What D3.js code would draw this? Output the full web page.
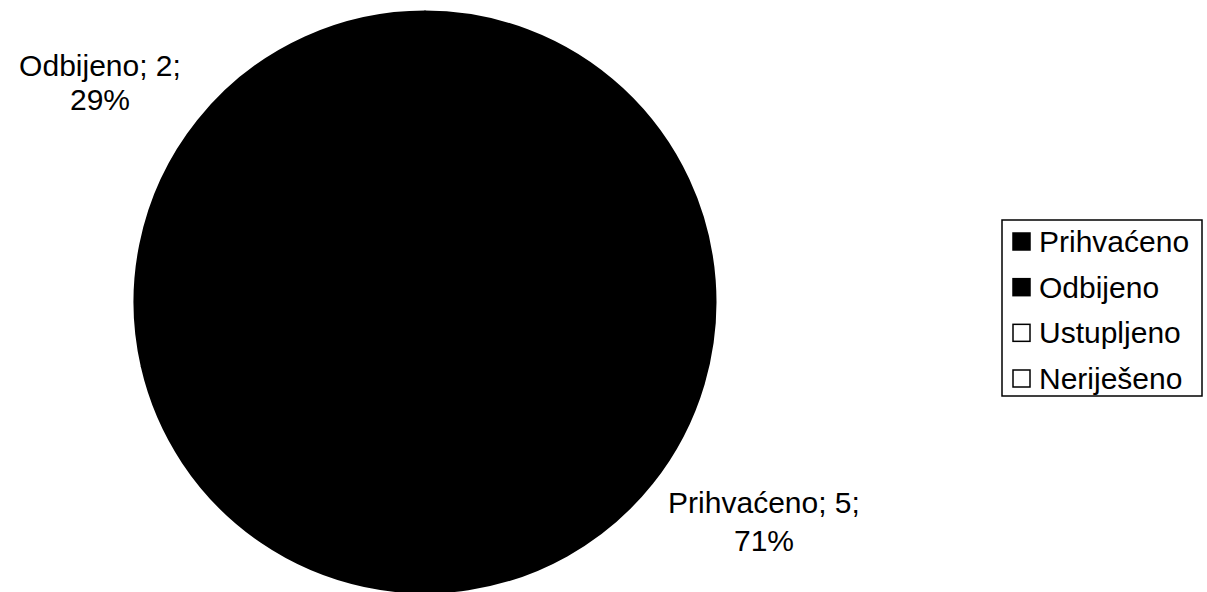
<!DOCTYPE html>
<html>
<head>
<meta charset="utf-8">
<script src="https://cdn.jsdelivr.net/npm/d3@7"></script>
<style>
  html, body { margin: 0; padding: 0; background: #fff; }
  svg { display: block; }
  text { font-family: "Liberation Sans", Arial, sans-serif; fill: #000; }
</style>
</head>
<body>
<svg id="chart" width="1207" height="592"></svg>
<script>
// ---- data ----
const categories = ["Prihvaćeno", "Odbijeno", "Ustupljeno", "Neriješeno"];
const values = [5, 2, 0, 0];
const percentLabels = ["71%", "29%", "0%", "0%"];
const sliceColors = ["#000000", "#000000", "#ffffff", "#ffffff"];

// ---- layout ----
const W = 1207, H = 592;
const cx = 425, cy = 302, radius = 290.5;
const fontSize = 30;
const labelPos = {               // label centre x, first baseline y, line gap
  "Prihvaćeno": [764, 513, 38],
  "Odbijeno": [100, 76, 34]
};

const svg = d3.select("#chart");

const pie = d3.pie().sort(null).value(d => d.value);
const data = categories.map((c, i) => ({ name: c, value: values[i], pct: percentLabels[i], color: sliceColors[i] }));
const arcs = pie(data);
const arc = d3.arc().innerRadius(0).outerRadius(radius);

const g = svg.append("g").attr("transform", `translate(${cx},${cy})`);
g.selectAll("path")
  .data(arcs.filter(a => a.data.value > 0))
  .join("path")
  .attr("d", arc)
  .attr("fill", d => d.data.color)
  .attr("stroke", d => d.data.color)
  .attr("stroke-width", 2)
  .attr("stroke-linejoin", "round");

// data labels
arcs.filter(a => a.data.value > 0).forEach(a => {
  const p = labelPos[a.data.name];
  const t = svg.append("text")
    .attr("text-anchor", "middle")
    .attr("font-size", fontSize);
  t.append("tspan").attr("x", p[0]).attr("y", p[1])
    .text(`${a.data.name}; ${a.data.value};`);
  t.append("tspan").attr("x", p[0]).attr("y", p[1] + p[2])
    .text(a.data.pct);
});

// legend
const lgX = 1002, lgY = 220, lgW = 200, lgH = 176;
const legend = svg.append("g");
legend.append("rect")
  .attr("x", lgX).attr("y", lgY).attr("width", lgW).attr("height", lgH)
  .attr("fill", "#fff").attr("stroke", "#000").attr("stroke-width", 1.5);

const rowY = d3.scalePoint().domain(categories).range([241.5, 378.5]);
const item = legend.selectAll("g.item").data(data).join("g")
  .attr("class", "item")
  .attr("transform", d => `translate(${lgX}, ${rowY(d.name)})`);
item.append("rect")
  .attr("x", 11).attr("y", -8.5).attr("width", 17).attr("height", 17)
  .attr("fill", d => d.color)
  .attr("stroke", "#000").attr("stroke-width", 1.5);
item.append("text")
  .attr("x", 37).attr("y", 10.5)
  .attr("font-size", fontSize)
  .text(d => d.name);
</script>
</body>
</html>
